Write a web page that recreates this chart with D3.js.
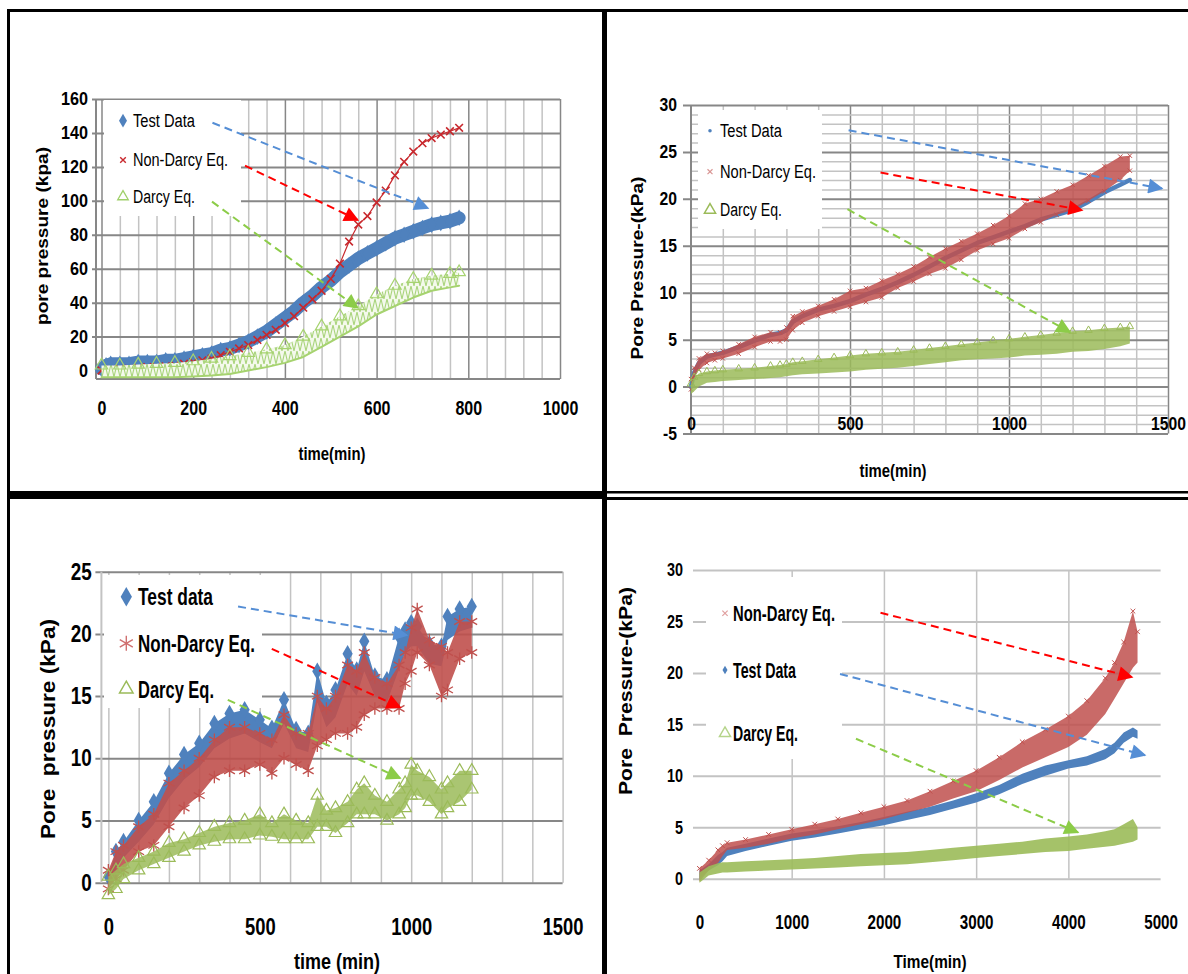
<!DOCTYPE html>
<html><head><meta charset="utf-8">
<script src="https://cdn.jsdelivr.net/npm/d3@7"></script>
<style>
body{margin:0;background:#fff}
svg{display:block}
</style></head><body>
<svg id="c" width="1188" height="974"></svg>
<script>
// ---------------- DATA ----------------
// Panel 1 (top-left)
const p1TestTime = [0,10,20,40,60,80,100,120,140,160,180,200,220,240,260,280,300,320,340,360,380,400,420,440,460,480,500,520,540,560,580,600,620,640,660,680,700,720,740,760,780];
const p1TestVal  = [1,3,4,4,4,5,5,5,6,6,7,8,9,10,12,13,15,17,20,23,27,31,35,40,44,49,53,58,62,66,69,72,75,78,80,82,84,86,87,88,90];
const p1NonDarcyTime = [0,20,40,60,80,100,120,140,160,180,200,220,240,260,280,300,320,340,360,380,400,420,440,460,480,500,520,540,560,580,600,620,640,660,680,700,720,740,760,780];
const p1NonDarcyVal  = [0,0.5,1,1,1.5,2,2,2.5,3,4,5,6,7,9,11,13,15,18,21,24,28,32,37,42,47,54,63,76,86,91,99,106,115,123,129,134,137,139,141,143];
const p1DarcyTime = [0,40,80,120,160,200,240,280,320,360,400,440,480,520,560,600,640,680,720,760,780];
const p1DarcyLo   = [-4,-4,-4,-4,-4,-3.5,-3,-2,0,2,4.5,8,14,20,26,33,38,43,47,49,50];
const p1DarcyHi   = [3,3,3.5,4,4.5,5.5,7,8.5,10.5,12.5,15,20,26,32,38,45,50,54,56,57,58];
const p1XTicks = [0,200,400,600,800,1000];
const p1YTicks = [0,20,40,60,80,100,120,140,160];
const p1Legend = ["Test Data","Non-Darcy Eq.","Darcy Eq."];
const p1Arrows = [["blue",[242,146],[712,95.7]],["red",[313,120.7],[559,88.7]],["green",[241,99.5],[559,36.9]]];

// Panel 2 (top-right)
const p2Time = [0,10,25,50,75,100,150,200,250,280,300,320,350,400,450,500,550,600,650,700,750,800,850,900,950,1000,1050,1100,1150,1200,1250,1300,1350,1380];
const p2TestVal = [0,1.5,2.5,3.2,3.4,3.6,4.2,4.9,5.5,5.7,6,6.9,7.5,8.2,8.6,9.1,9.8,10.4,11.1,11.9,12.8,13.7,14.5,15.3,15.9,16.5,17.1,17.8,18.3,18.8,19.7,20.7,21.5,22];
const p2NonDarcyLo = [-0.3,1,1.8,2.5,2.8,3,3.5,4.2,4.8,4.8,5,6,6.8,7.5,8,8.5,9,9.5,10.5,11.2,12,12.6,13.5,14.5,15.2,15.8,16.8,17.5,18.3,18.8,19.8,20.8,22,23];
const p2NonDarcyHi = [0.8,2,3,3.5,3.6,3.8,4.5,5.3,5.8,5.8,6.3,7.5,8,8.6,9.3,10.2,10.5,11.3,12,12.8,13.8,14.7,15.5,16.3,17.2,18.2,19.5,20,20.8,21.5,22.5,23.5,24.5,24.6];
const p2DarcyLo = [-0.8,-0.5,0,0.4,0.5,0.6,0.7,0.8,0.9,1,1.1,1.2,1.3,1.4,1.5,1.6,1.8,1.9,2,2.2,2.4,2.6,2.8,2.9,3,3.1,3.3,3.4,3.5,3.7,3.8,4,4.3,4.6];
const p2DarcyHi = [0.3,1,1.4,1.6,1.7,1.8,1.9,2,2.2,2.3,2.4,2.6,2.7,2.9,3.1,3.3,3.5,3.6,3.7,3.9,4.1,4.3,4.5,4.7,4.9,5.1,5.3,5.5,5.7,5.9,6,6.2,6.3,6.4];
const p2XTicks = [0,500,1000,1500];
const p2YTicks = [-5,0,5,10,15,20,25,30];
const p2Legend = ["Test Data","Non-Darcy Eq.","Darcy Eq."];
const p2Arrows = [["blue",[495.6,27.3],[1481,21.1]],["red",[596,22.8],[1229.6,18.8]],["green",[492,18.9],[1191.8,5.8]]];

// Panel 3 (bottom-left)
const p3Time = [0,25,50,100,150,200,250,300,350,400,450,500,540,580,620,660,690,720,750,790,820,845,880,920,960,980,1000,1020,1060,1100,1120,1160,1200];
const p3TestLo = [-0.3,1,2,3.3,4.7,6.8,8.3,9.3,10.8,11.6,12,11.3,10.8,12.8,10.8,10.5,14.5,12.5,13.3,16,15,17,15,14.5,17.2,18.5,19,19,17.6,17.4,19.5,20.2,20.5];
const p3TestHi = [0.5,2.5,3.3,5,6.5,8.8,10.3,11.2,12.8,13.6,13.9,13.1,12.4,14.7,12.3,12,17,14.4,15.5,18.4,17.1,19.4,16.6,16.3,19.8,20.3,20.9,20.6,19.2,19,21.4,22,22.2];
const p3NonDarcyLo = [-0.5,0.3,1,2.5,3,4.5,6,7,8.5,9,9,9.5,8.8,10,9.5,9,11,11.5,12,12,12.5,13.5,14,14,14,16,17,18.5,17.5,15,15.5,18,18.5];
const p3NonDarcyHi = [1,2.5,3,4.5,5.5,8,9,10,11.5,12.5,12.5,12,11.5,13.5,12,12,15,14,15,17.5,17,18.5,16.5,16,17.5,18.5,20.5,22,19.5,19,18.5,21,21];
const p3DarcyLo = [-1,-0.5,0.3,1,1.5,2,2.5,3,3.3,3.5,3.5,3.8,3.7,3.5,3.5,3.5,4.5,4.5,4,4.8,5.5,5.5,5.5,5,5.5,6,7,7,6.5,5.5,6,6.5,7.5];
const p3DarcyHi = [0.5,1,1.5,2,2.5,3.2,3.5,4,4.5,4.8,5,5.5,4.8,5.5,5,4.8,7,5.8,6,6.5,7.5,8,7,6.5,7.5,8,9.5,9,8.5,7.5,8,9,9];
const p3XTicks = [0,500,1000,1500];
const p3YTicks = [0,5,10,15,20,25];
const p3Legend = ["Test data","Non-Darcy Eq.","Darcy Eq."];
const p3Arrows = [["blue",[428.3,22.2],[986,19.9]],["red",[539.6,18.8],[964,14.1]],["green",[394.3,14.7],[963.7,8.4]]];

// Panel 4 (bottom-right)
const p4Time = [0,100,200,250,300,500,750,1000,1250,1500,1750,2000,2250,2500,2750,3000,3250,3500,3750,4000,4200,4400,4500,4600,4700,4750];
const p4TestLo = [0,0.8,1.3,1.7,2.2,2.7,3.2,3.7,4,4.4,4.8,5.2,5.7,6.2,6.8,7.4,8.2,9.2,10,10.7,11,11.6,12.2,13.2,13.8,13.6];
const p4TestHi = [0.8,1.4,2.3,2.6,3,3.4,3.9,4.4,4.7,5.1,5.5,6,6.5,7,7.6,8.3,9.1,10.2,11,11.5,11.9,12.6,13.2,14.2,14.7,14.4];
const p4NonDarcyLo = [-0.3,0.8,1.5,2.2,2.8,3,3.4,3.9,4.3,4.8,5.3,5.8,6.4,7,7.8,8.5,9.6,10.8,11.8,12.8,14,16,17.5,19,20.5,21];
const p4NonDarcyHi = [1,1.8,2.8,3.2,3.5,3.8,4.3,4.8,5.3,5.8,6.4,7,7.6,8.5,9.5,10.5,11.8,13.3,14.5,15.8,17.3,19.5,21,23,26,24];
const p4DarcyLo = [-0.4,0.3,0.5,0.6,0.6,0.7,0.8,0.9,1,1.1,1.2,1.3,1.4,1.6,1.8,2,2.2,2.4,2.6,2.7,2.9,3.1,3.2,3.4,3.6,3.8];
const p4DarcyHi = [0.6,1.2,1.5,1.6,1.6,1.7,1.8,1.9,2,2.2,2.4,2.5,2.6,2.8,3,3.2,3.4,3.6,3.9,4.1,4.3,4.6,4.8,5.3,5.8,5];
const p4XTicks = [0,1000,2000,3000,4000,5000];
const p4YTicks = [0,5,10,15,20,25,30];
const p4Legend = ["Non-Darcy Eq.","Test Data","Darcy Eq."];
const p4Arrows = [["red",[1963,25.85],[4690,19.6]],["blue",[1524,19.9],[4830,12]],["green",[1697,13.6],[4104,4.5]]];

// ---------------- STYLE ----------------
const FONT = '"Liberation Sans", Arial, sans-serif';
const BLUE = "#4f81bd", RED = "#c0504d", GREEN = "#9bbb59";
const GD = "#878787", GL = "#c3c3c3";
const ARROW = {blue:"#558ed5", red:"#ff0000", green:"#8ccc48"};
const symTimes = d3.symbolTimes || d3.symbolCross;
const symAst = d3.symbolAsterisk || d3.symbolCross;
const symTri2 = d3.symbolTriangle2 || d3.symbolTriangle;
const fmt = d => String(d);

const svg = d3.select("#c");
const defs = svg.append("defs");
Object.entries(ARROW).forEach(([k,c])=>{
  defs.append("marker").attr("id","ah-"+k).attr("viewBox","0 0 10 10")
    .attr("refX",9).attr("refY",5).attr("markerUnits","userSpaceOnUse")
    .attr("markerWidth",17).attr("markerHeight",15).attr("orient","auto")
    .append("path").attr("d","M0,0 L10,5 L0,10 Z").attr("fill",c);
});
const pat = defs.append("pattern").attr("id","hatch").attr("patternUnits","userSpaceOnUse").attr("width",6).attr("height",13);
pat.append("rect").attr("width",6).attr("height",13).attr("fill","#f4f9ec");
pat.append("path").attr("d","M0,13 L3,0 L6,13").attr("fill","none").attr("stroke","#a9d47c").attr("stroke-width",1.1);

// ---------------- HELPERS ----------------
function band(g,x,y,xs,lo,hi,fill,op){
  g.append("path").datum(xs.map((t,i)=>[t,lo[i],hi[i]]))
    .attr("d",d3.area().x(d=>x(d[0])).y0(d=>y(d[1])).y1(d=>y(d[2])))
    .attr("fill",fill).attr("fill-opacity",op);
}
function line(g,x,y,xs,vs,col,w){
  g.append("path").datum(xs.map((t,i)=>[t,vs[i]]))
    .attr("d",d3.line().x(d=>x(d[0])).y(d=>y(d[1])))
    .attr("fill","none").attr("stroke",col).attr("stroke-width",w)
    .attr("stroke-linejoin","round").attr("stroke-linecap","round");
}
function marks(g,x,y,xs,vs,type,size,fill,stroke,sw){
  g.append("g").selectAll("path").data(xs.map((t,i)=>[t,vs[i]])).join("path")
    .attr("transform",d=>`translate(${x(d[0])},${y(d[1])})`)
    .attr("d",d3.symbol(type,size)())
    .attr("fill",fill).attr("stroke",stroke).attr("stroke-width",sw||1);
}

function panel(c){
  const g = svg.append("g");
  const x = d3.scaleLinear().domain(c.xDom).range([c.L,c.R]);
  const y = d3.scaleLinear().domain(c.yDom).range([c.B,c.T]);
  const W = c.R-c.L, H = c.B-c.T;
  c.vGrid.forEach(([vals,col,w])=>{
    g.append("g").attr("transform",`translate(0,${c.B})`)
      .call(d3.axisBottom(x).tickValues(vals).tickSize(-H).tickFormat(""))
      .call(s=>{s.select(".domain").remove(); s.selectAll("line").attr("stroke",col).attr("stroke-width",w);});
  });
  c.hGrid.forEach(([vals,col,w,stub])=>{
    g.append("g").attr("transform",`translate(${c.L-stub},0)`)
      .call(d3.axisRight(y).tickValues(vals).tickSize(W+stub).tickFormat(""))
      .call(s=>{s.select(".domain").remove(); s.selectAll("line").attr("stroke",col).attr("stroke-width",w);});
  });
  if (c.axisCol){
    g.append("line").attr("x1",c.L).attr("x2",c.L).attr("y1",c.T).attr("y2",c.B).attr("stroke",c.axisCol).attr("stroke-width",2);
    if (c.bottomAxis) g.append("line").attr("x1",c.L).attr("x2",c.R).attr("y1",c.B).attr("y2",c.B).attr("stroke",c.axisCol).attr("stroke-width",2);
  }
  const lb = c.legBox;
  g.append("rect").attr("x",lb[0]).attr("y",lb[1]).attr("width",lb[2]-lb[0]).attr("height",lb[3]-lb[1]).attr("fill","#fff");
  c.draw(g,x,y);
  const L = c.leg;
  L.labels.forEach((t,i)=>{
    const s = L.syms[i];
    g.append("path").attr("transform",`translate(${L.mx},${L.ys[i]})`).attr("d",d3.symbol(s[0],s[1])())
      .attr("fill",s[2]).attr("stroke",s[3]).attr("stroke-width",s[4]||1);
    g.append("text").attr("x",L.tx).attr("y",L.ys[i]).attr("dominant-baseline","central")
      .attr("font-family",FONT).attr("font-size",L.fs).attr("font-weight",L.fw).attr("fill","#000")
      .attr("textLength",L.widths[i]).attr("lengthAdjust","spacingAndGlyphs").text(t);
  });
  c.arrows.forEach(([col,a,b])=>{
    g.append("line").attr("x1",x(a[0])).attr("y1",y(a[1])).attr("x2",x(b[0])).attr("y2",y(b[1]))
      .attr("stroke",ARROW[col]).attr("stroke-width",2).attr("stroke-dasharray","8,5")
      .attr("marker-end",`url(#ah-${col})`);
  });
  const ya = g.append("g").attr("transform",`translate(${c.L},0)`)
    .call(d3.axisLeft(y).tickValues(c.yTicks).tickFormat(fmt).tickSize(0).tickPadding(c.yPad));
  ya.select(".domain").remove();
  ya.attr("font-family",FONT).attr("font-size",c.yFs).attr("font-weight","bold");
  ya.selectAll("text").attr("fill","#000").attr("x",-c.yPad/c.ySx).attr("transform",`scale(${c.ySx},1)`);
  const xa = g.append("g").attr("transform",`translate(0,${c.xLabY})`)
    .call(d3.axisBottom(x).tickValues(c.xTicks).tickFormat(fmt).tickSize(0).tickPadding(0));
  xa.select(".domain").remove();
  xa.attr("font-family",FONT).attr("font-size",c.xFs).attr("font-weight","bold");
  xa.selectAll("text").attr("fill","#000").attr("y",0).attr("dy","0.36em").attr("transform",`scale(${c.xSx},1)`);
  const xt = c.xTitle, yt = c.yTitle;
  g.append("text").attr("x",xt[1]).attr("y",xt[2]).attr("text-anchor","middle").attr("dominant-baseline","central")
    .attr("font-family",FONT).attr("font-weight","bold").attr("font-size",xt[3]).attr("fill","#000")
    .attr("textLength",xt[4]).attr("lengthAdjust","spacingAndGlyphs").style("white-space","pre").text(xt[0]);
  g.append("text").attr("transform",`translate(${yt[1]},${yt[2]}) rotate(-90)`).attr("text-anchor","middle").attr("dominant-baseline","central")
    .attr("font-family",FONT).attr("font-weight","bold").attr("font-size",yt[3]).attr("fill","#000")
    .attr("textLength",yt[4]).attr("lengthAdjust","spacingAndGlyphs").style("white-space","pre").text(yt[0]);
}

// ---------------- PANELS ----------------
panel({
  L:96,R:560,T:99,B:379,xDom:[-12,1000],yDom:[-5,160],
  vGrid:[[d3.range(40,1000,40).filter(v=>v%200),GL,1.5],[d3.range(0,1001,200),GD,1.5]],
  hGrid:[[d3.range(20,161,20),GD,2,4]],
  axisCol:GD,bottomAxis:true,
  legBox:[104,100,241,216],
  draw:(g,x,y)=>{
    line(g,x,y,p1TestTime,p1TestVal,BLUE,13);
    marks(g,x,y,p1TestTime,p1TestVal,d3.symbolDiamond,80,BLUE,"none");
    line(g,x,y,p1NonDarcyTime,p1NonDarcyVal,"#c8282d",1.2);
    marks(g,x,y,p1NonDarcyTime,p1NonDarcyVal,symTimes,40,"none","#c8282d",1.6);
    band(g,x,y,p1DarcyTime,p1DarcyLo,p1DarcyHi,"url(#hatch)",1);
    line(g,x,y,p1DarcyTime,p1DarcyLo,"#a6d36f",2);
    marks(g,x,y,p1DarcyTime,p1DarcyHi,symTri2,110,"none","#a6d36f",1.2);
  },
  leg:{mx:123,tx:133,ys:[120.7,160,196.7],fs:18,fw:"normal",widths:[62,95,62],labels:p1Legend,
       syms:[[d3.symbolDiamond,55,BLUE,"none"],[symTimes,22,"none","#c8282d",1.4],[symTri2,80,"none","#9fd06a",1.3]]},
  arrows:p1Arrows,
  yTicks:p1YTicks,yPad:8,yFs:18,ySx:0.9,
  xTicks:p1XTicks,xLabY:408,xFs:20,xSx:0.8,
  xTitle:["time(min)",332,453,19,67],
  yTitle:["pore pressure (kpa)",42,236,17,178]
});

panel({
  L:691,R:1168,T:105,B:433.5,xDom:[0,1500],yDom:[-5,30],
  vGrid:[[d3.range(100,1500,100).filter(v=>v%500),GL,1.5],[[500,1000,1500],GD,1.5]],
  hGrid:[[d3.range(-4,30,1).filter(v=>v%5),GL,1.5,0],[d3.range(-5,31,5),GD,2,8]],
  axisCol:GD,bottomAxis:false,
  legBox:[698,110,822,229],
  draw:(g,x,y)=>{
    line(g,x,y,p2Time,p2TestVal,BLUE,4.5);
    band(g,x,y,p2Time,p2NonDarcyLo,p2NonDarcyHi,RED,0.85);
    marks(g,x,y,p2Time,p2NonDarcyHi,symTimes,14,"none",RED,1);
    marks(g,x,y,p2Time,p2NonDarcyLo,symTimes,14,"none",RED,1);
    band(g,x,y,p2Time,p2DarcyLo,p2DarcyHi,GREEN,0.85);
    marks(g,x,y,p2Time,p2DarcyHi,symTri2,40,"none",GREEN,1);
  },
  leg:{mx:710,tx:720,ys:[130.7,171.7,210],fs:18,fw:"normal",widths:[62,96,62],labels:p2Legend,
       syms:[[d3.symbolCircle,10,BLUE,"none"],[symTimes,18,"none","#d99694",1.2],[symTri2,90,"none",GREEN,1.5]]},
  arrows:p2Arrows,
  yTicks:p2YTicks,yPad:14,yFs:18.5,ySx:0.85,
  xTicks:p2XTicks,xLabY:423,xFs:18.5,xSx:0.85,
  xTitle:["time(min)",893,470,19,67],
  yTitle:["Pore Pressure-(kPa)",637,268,17,183]
});

panel({
  L:101.4,R:562.6,T:571.7,B:882.7,xDom:[-23,1500],yDom:[0,25],
  vGrid:[[d3.range(0,1501,100),GL,1.5]],
  hGrid:[[d3.range(0,26,5),GD,2,6]],
  axisCol:GL,bottomAxis:false,
  legBox:[104,575,262,708],
  draw:(g,x,y)=>{
    band(g,x,y,p3Time,p3TestLo,p3TestHi,BLUE,1);
    marks(g,x,y,p3Time,p3TestHi,d3.symbolDiamond,90,BLUE,"none");
    band(g,x,y,p3Time,p3NonDarcyLo,p3NonDarcyHi,RED,0.9);
    marks(g,x,y,p3Time,p3NonDarcyHi,symAst,110,"none",RED,1.3);
    marks(g,x,y,p3Time,p3NonDarcyLo,symAst,110,"none",RED,1.3);
    band(g,x,y,p3Time,p3DarcyLo,p3DarcyHi,GREEN,0.85);
    marks(g,x,y,p3Time,p3DarcyHi,symTri2,110,"none",GREEN,1.2);
    marks(g,x,y,p3Time,p3DarcyLo,symTri2,110,"none",GREEN,1.2);
  },
  leg:{mx:126.3,tx:138,ys:[596.7,643.3,689],fs:24,fw:"bold",widths:[75,117,76],labels:p3Legend,
       syms:[[d3.symbolDiamond,110,BLUE,"none"],[symAst,160,"none","#d07070",1.4],[symTri2,130,"none",GREEN,1.5]]},
  arrows:p3Arrows,
  yTicks:p3YTicks,yPad:9.6,yFs:23,ySx:0.82,
  xTicks:p3XTicks,xLabY:926.7,xFs:23,xSx:0.8,
  xTitle:["time (min)",337,961.7,22,86],
  yTitle:["Pore  pressure (kPa)",48,729,20,220]
});

panel({
  L:693,R:1160.6,T:570,B:878.7,xDom:[-70,5000],yDom:[0,30],
  vGrid:[[[1000,2000,3000,4000],GL,1.5]],
  hGrid:[[d3.range(0,31,5),GL,2,0]],
  axisCol:null,bottomAxis:false,
  legBox:[706,577,842,759],
  draw:(g,x,y)=>{
    band(g,x,y,p4Time,p4TestLo,p4TestHi,BLUE,1);
    band(g,x,y,p4Time,p4NonDarcyLo,p4NonDarcyHi,RED,0.85);
    marks(g,x,y,p4Time,p4NonDarcyHi,symTimes,16,"none",RED,1);
    band(g,x,y,p4Time,p4DarcyLo,p4DarcyHi,GREEN,0.9);
  },
  leg:{mx:725,tx:733,ys:[613.3,670,733.3],fs:22,fw:"bold",widths:[102,63,65],labels:p4Legend,
       syms:[[symTimes,20,"none","#e0a0a0",1.2],[d3.symbolDiamond,22,BLUE,"none"],[symTri2,90,"none","#b5d48a",1.4]]},
  arrows:p4Arrows,
  yTicks:p4YTicks,yPad:10,yFs:18,ySx:0.8,
  xTicks:p4XTicks,xLabY:921.7,xFs:20,xSx:0.76,
  xTitle:["Time(min)",930,961.7,19,73],
  yTitle:["Pore  Pressure-(kPa)",626,691,18,208]
});

// ---------------- FRAMES ----------------
const fr = svg.append("g").attr("fill","#000");
fr.append("rect").attr("x",7).attr("y",9).attr("width",1181).attr("height",3);
fr.append("rect").attr("x",7).attr("y",9).attr("width",3).attr("height",965);
fr.append("rect").attr("x",602).attr("y",9).attr("width",5).attr("height",965);
fr.append("rect").attr("x",7).attr("y",491).attr("width",597).attr("height",8);
fr.append("rect").attr("x",604).attr("y",491).attr("width",584).attr("height",2.5);
fr.append("rect").attr("x",604).attr("y",497).attr("width",584).attr("height",3);
</script></body></html>
